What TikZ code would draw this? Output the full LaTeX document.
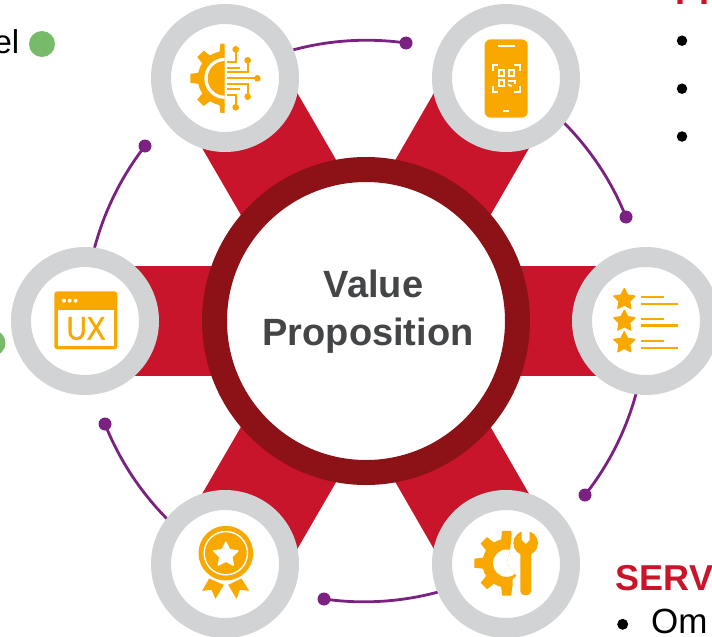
\documentclass[tikz,border=0pt]{standalone}
\usepackage{fontspec}
\setmainfont{Liberation Sans}
\newfontfamily\uxfont[FakeBold=1.6]{Liberation Sans}
\definecolor{barred}{HTML}{C8152B}
\definecolor{ringred}{HTML}{8C1218}
\definecolor{satgray}{HTML}{D1D3D4}
\definecolor{iconor}{HTML}{F9A800}
\definecolor{arcpurple}{HTML}{7B2181}
\definecolor{hubtext}{HTML}{444546}
\definecolor{dotgreen}{HTML}{77BA6A}
\newcommand{\iconstar}[4]{%
  \begin{scope}[shift={(#1,#2)}]
    \pgfmathsetmacro{\starin}{0.5*#3}
    \fill[#4,draw=#4,line width=1.4pt,line join=round] (270:#3) -- (306:\starin) -- (342:#3) -- (18:\starin) -- (54:#3) -- (90:\starin) -- (126:#3) -- (162:\starin) -- (198:#3) -- (234:\starin) -- cycle;
  \end{scope}}
\newcommand{\geartoothed}[5]{%
  \begin{scope}[shift={(#1,#2)}]
    \fill[iconor] (0,0) circle (#3);
    \foreach \ga in {90,135,180,225,270}{
      \fill[iconor,rotate=\ga] (#3-6,-#5) -- (#4,-0.8*#5) -- (#4,0.8*#5) -- (#3-6,#5) -- cycle;
    }
  \end{scope}}
\tikzset{
  satellite/.style={circle,draw=satgray,fill=white,line width=20pt,minimum size=128pt,inner sep=0pt},
  hubring/.style={circle,draw=ringred,fill=white,line width=25pt,minimum size=303pt,inner sep=0pt},
  hublabel/.style={inner sep=0pt,text=hubtext,align=center,font=\fontsize{38}{48}\selectfont\bfseries},
  redbar/.style={barred,line width=110pt},
  orbit/.style={arcpurple,line width=2.8pt,bend left=19,looseness=0.875},
  orbitdot/.style={circle,fill=arcpurple,minimum size=13pt,inner sep=0pt},
  greendot/.style={circle,fill=dotgreen,minimum size=26pt,inner sep=0pt},
  bulletdot/.style={circle,fill=black,minimum size=10.5pt,inner sep=0pt},
  headtext/.style={anchor=base west,inner sep=0pt,text=barred,font=\fontsize{36}{40}\selectfont\bfseries},
  bodytext/.style={inner sep=0pt,text=black,font=\fontsize{35}{38}\selectfont},
  icon/.style={x=0.3333pt,y=-0.3333pt},
  iconline/.style={iconor,line width=2pt},
}
\begin{document}
\begin{tikzpicture}[x=1pt,y=-1pt]
\useasboundingbox (0,0) rectangle (712,637);
\clip (0,0) rectangle (712,637);
\fill[white] (0,0) rectangle (712,637);
\coordinate (hubc) at (366,321);
\coordinate (c1) at (225,78);
\coordinate (c2) at (506,78);
\coordinate (c3) at (646,321);
\coordinate (c4) at (506,564);
\coordinate (c5) at (225,564);
\coordinate (c6) at (85,321);
\node[orbitdot] (d1) at (406,43) {};
\node[orbitdot] (d2) at (626,217) {};
\node[orbitdot] (d3) at (585,495) {};
\node[orbitdot] (d4) at (324,599) {};
\node[orbitdot] (d5) at (105,424) {};
\node[orbitdot] (d6) at (145,146) {};
\draw[orbit] (c1) to (d1.center);
\draw[orbit] (c2) to (d2.center);
\draw[orbit] (c3) to (d3.center);
\draw[orbit] (c4) to (d4.center);
\draw[orbit] (c5) to (d5.center);
\draw[orbit] (c6) to (d6.center);
\foreach \sp in {c1,c2,c3,c4,c5,c6}{\draw[redbar] (hubc) -- (\sp);}
\node[hubring] (hub) at (hubc) {};
\node[hublabel] (hubtxt) at (368,311.5) {\hspace*{11pt}Value\\Proposition};
\node[satellite] (s1) at (c1) {};
\node[satellite] (s2) at (c2) {};
\node[satellite] (s3) at (c3) {};
\node[satellite] (s4) at (c4) {};
\node[satellite] (s5) at (c5) {};
\node[satellite] (s6) at (c6) {};
% icon 1: half gear and circuit
\begin{scope}[shift={(s1.center)},icon,shift={(-225,-234)}]
  \begin{scope}
    \clip (100,110) rectangle (224,360);
    \geartoothed{225}{235}{82}{104}{17}
    \fill[white] (225,235) circle (62);
    \fill[iconor] (225,235) circle (52);
  \end{scope}
  \draw[iconline] (232,185) -- (257,185) -- (257,148);
  \fill[iconor] (257,148) circle (10);
  \draw[iconline] (232,203) -- (270,203);
  \draw[iconline] (232,217) -- (293,217) -- (293,181);
  \fill[iconor] (293,181) circle (10);
  \draw[iconline] (232,235) -- (322,235);
  \fill[iconor] (322,235) circle (10);
  \draw[iconline] (232,253) -- (293,253) -- (293,290);
  \fill[iconor] (293,290) circle (10);
  \draw[iconline] (232,268) -- (270,268);
  \draw[iconline] (232,285) -- (257,285) -- (257,322);
  \fill[iconor] (257,322) circle (10);
\end{scope}
% icon 2: phone with code
\begin{scope}[shift={(s2.center)},icon,shift={(-227,-233)}]
  \fill[iconor,rounded corners=6pt] (163,117) rectangle (292,352);
  \draw[white,line width=1.9pt] (202,138) -- (254,138);
  \draw[white,line width=1.9pt] (219,332) -- (237,332);
  \draw[white,line width=1.7pt] (187,211) -- (187,195) -- (204,195);
  \draw[white,line width=1.7pt] (252,195) -- (269,195) -- (269,211);
  \draw[white,line width=1.7pt] (187,258) -- (187,274) -- (204,274);
  \draw[white,line width=1.7pt] (252,274) -- (269,274) -- (269,258);
  \draw[white,line width=1.7pt] (205,210) rectangle (222,227);
  \draw[white,line width=1.7pt] (235,210) rectangle (252,227);
  \draw[white,line width=1.7pt] (205,240) rectangle (222,257);
  \draw[white,line width=1.7pt] (233,241) -- (254,241) -- (254,250);
  \draw[white,line width=1.7pt] (233,252) -- (244,258);
\end{scope}
% icon 3: rated list
\begin{scope}[shift={(s3.center)},icon,shift={(-227,-211.5)}]
  \iconstar{162}{147}{33}{iconor}
  \iconstar{162}{212}{33}{iconor}
  \iconstar{162}{277}{33}{iconor}
  \foreach \yy/\xe in {139/282,160/324,205/282,224/324,271/280,292/324}{
    \fill[iconor] (213,\yy-4) rectangle (\xe,\yy+4);
  }
\end{scope}
% icon 4: gear and wrench
\begin{scope}[shift={(s4.center)},icon,shift={(-227,-222.5)}]
  \begin{scope}
    \clip (120,110) -- (246,110) -- (240,175) -- (229,220) -- (258,258) -- (247,268) -- (247,330) -- (120,330) -- cycle;
    \geartoothed{229}{220}{73}{97}{17}
    \fill[white] (229,220) circle (41);
  \end{scope}
  \fill[iconor] (286,160) circle (37);
  \fill[iconor,rounded corners=4pt] (270,170) rectangle (302,316);
  \fill[white] (274,118) -- (298,118) -- (298,150) -- (286,162) -- (274,150) -- cycle;
\end{scope}
% icon 5: medal
\begin{scope}[shift={(s5.center)},icon,shift={(-225.5,-222.5)}]
  \fill[iconor] (178,266) -- (222,285) -- (197,327) -- (185,300) -- (157,303) -- cycle;
  \fill[iconor] (275,266) -- (235,285) -- (260,327) -- (270,300) -- (298,303) -- cycle;
  \fill[iconor] (228,190) circle (82);
  \draw[white,line width=1.4pt] (228,190) circle (65);
  \iconstar{228}{195}{38}{white}
\end{scope}
% icon 6: window with UX
\begin{scope}[shift={(s6.center)},icon,shift={(-255,-213)}]
  \fill[iconor,rounded corners=3pt] (163,124) rectangle (352,298);
  \fill[white] (175,180) rectangle (342,288);
  \foreach \xx in {192,209,227}{\fill[white] (\xx,152) circle (6);}
  \node[inner sep=0pt,text=iconor,xscale=0.86,font=\uxfont\fontsize{32.5}{34}\selectfont] (uxt) at (258,235.5) {UX};
\end{scope}
\node[greendot] (g1) at (42,44) {};
\node[greendot] (g2) at (-7.5,343) {};
\node[bodytext,anchor=base east,font=\fontsize{33}{36}\selectfont] (t1) at (19.5,53) {el};
\node[headtext] (t2) at (675,5) {PR};
\node[bulletdot] (b1) at (682,40.7) {};
\node[bulletdot] (b2) at (682,88.7) {};
\node[bulletdot] (b3) at (682,136.5) {};
\node[headtext] (t3) at (615.5,590) {SERV};
\node[bulletdot,minimum size=11pt] (b4) at (622.7,624.3) {};
\node[bodytext,anchor=base west] (t4) at (651,633) {Om};
\end{tikzpicture}
\end{document}
